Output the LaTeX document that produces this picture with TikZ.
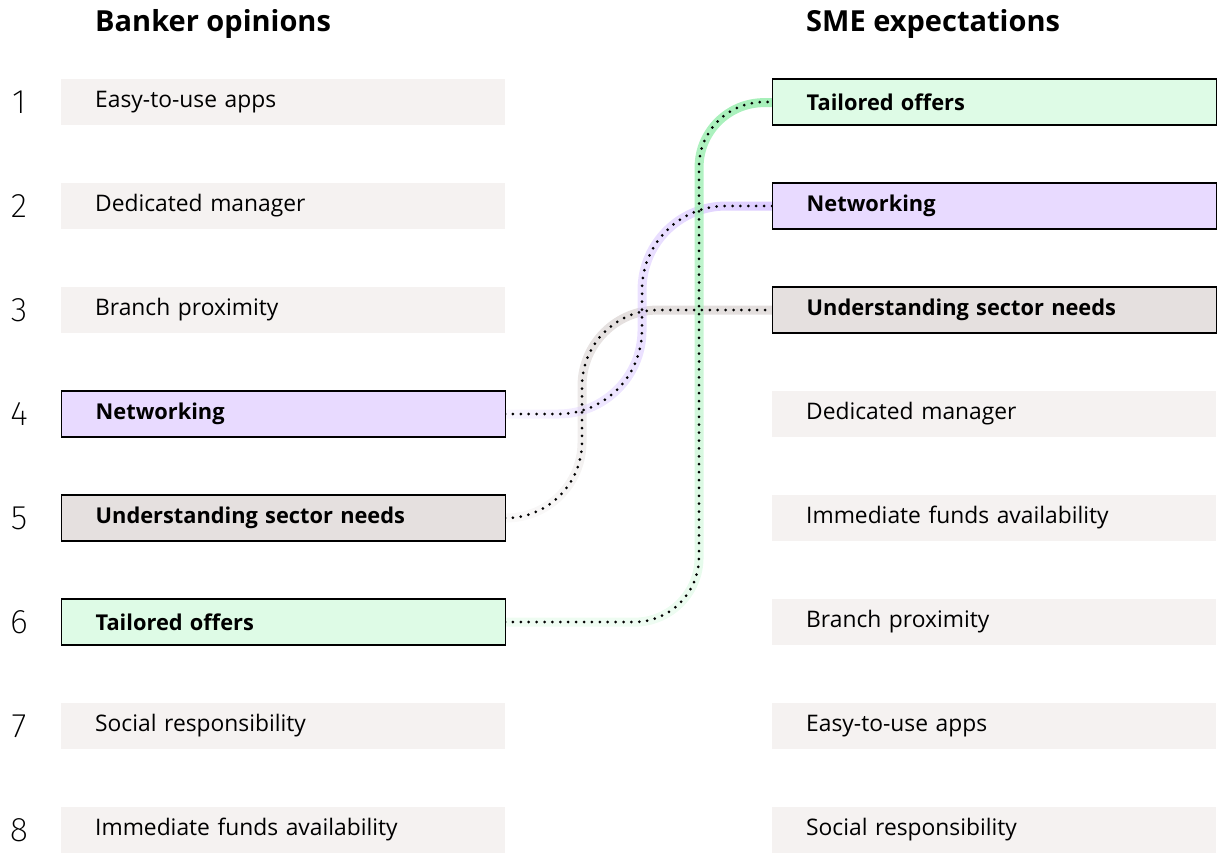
\documentclass[tikz,border=0pt]{standalone}
\usepackage{fontspec}
\setmainfont{Open Sans}
\newfontfamily\numfont{Fira Sans ExtraLight}
\usetikzlibrary{fadings}
\definecolor{boxgray}{HTML}{F5F2F1}
\definecolor{hlpurple}{HTML}{E8DAFF}
\definecolor{hlgreen}{HTML}{DEFBE6}
\definecolor{hlgray}{HTML}{E5E0DF}
\definecolor{bandgreen}{HTML}{A7F0BA}
\definecolor{bandpurple}{HTML}{DCCBFF}
\definecolor{bandgray}{HTML}{E3DEDD}
\tikzfading[name=fadesouthsoft, top color=transparent!0, middle color=transparent!25, bottom color=transparent!82]
\tikzfading[name=fadewestsoft, right color=transparent!0, left color=transparent!85]
\tikzset{
  item/.style={anchor=west, minimum width=444pt, minimum height=46pt, inner xsep=34pt, inner ysep=0pt,
    text width=376pt, align=left, font=\fontsize{22.8}{26}\selectfont, fill=boxgray},
  hl/.style={item, draw=black, line width=1.4pt, font=\fontsize{21.8}{26}\selectfont\bfseries},
  num/.style={font=\numfont\fontsize{34}{38}\selectfont, anchor=center},
  head/.style={anchor=west, font=\fontsize{29}{33}\selectfont\bfseries, inner sep=0pt},
  band/.style={line width=9pt, line cap=round},
  dots/.style={line width=3pt, dash pattern=on 0pt off 7.9pt, line cap=round, black}
}
\begin{document}
\begin{tikzpicture}[x=1pt, y=-1pt]
\useasboundingbox (0,0) rectangle (1218,853);
\node[head] (hL) at (95,24) {Banker opinions};
\node[head] (hR) at (806,24) {SME expectations};
% numbers
\foreach \i in {1,...,8} {
  \node[num] (n\i) at (19,{102+104*(\i-1)}) {\i};
}
% connector coordinates
\coordinate (gA) at (699,622);
\coordinate (gB) at (699,102);
\coordinate (pA) at (642,414);
\coordinate (pB) at (642,206);
\coordinate (sA) at (582,518);
\coordinate (sB) at (582,310);
\coordinate (Le4) at (505,414);
\coordinate (Le5) at (505,518);
\coordinate (Le6) at (505,622);
\coordinate (Rw1) at (772,102);
\coordinate (Rw2) at (772,206);
\coordinate (Rw3) at (772,310);
\draw[band, bandgray, path fading=fadesouthsoft] (Le5) [rounded corners=76pt] -- (sA) -- (sB) -- (Rw3);
\draw[band, bandpurple, path fading=fadewestsoft] (Le4) [rounded corners=84pt] -- (pA) -- (pB) -- (Rw2);
\draw[band, bandgreen, path fading=fadesouthsoft] (Le6) [rounded corners=65pt] -- (gA) -- (gB) -- (Rw1);
\draw[dots] (Le5) [rounded corners=76pt] -- (sA) -- (sB) -- (Rw3);
\draw[dots] (Le4) [rounded corners=84pt] -- (pA) -- (pB) -- (Rw2);
\draw[dots] (Le6) [rounded corners=65pt] -- (gA) -- (gB) -- (Rw1);
% left column
\node[item] (L1) at (61,102) {Easy-to-use apps};
\node[item] (L2) at (61,206) {Dedicated manager};
\node[item] (L3) at (61,310) {Branch proximity};
\node[hl, fill=hlpurple] (L4) at (61,414) {Networking};
\node[hl, fill=hlgray] (L5) at (61,518) {Understanding sector needs};
\node[hl, fill=hlgreen] (L6) at (61,622) {Tailored offers};
\node[item] (L7) at (61,726) {Social responsibility};
\node[item] (L8) at (61,830) {Immediate funds availability};
% right column
\node[hl, fill=hlgreen] (R1) at (772,102) {Tailored offers};
\node[hl, fill=hlpurple] (R2) at (772,206) {Networking};
\node[hl, fill=hlgray] (R3) at (772,310) {Understanding sector needs};
\node[item] (R4) at (772,414) {Dedicated manager};
\node[item] (R5) at (772,518) {Immediate funds availability};
\node[item] (R6) at (772,622) {Branch proximity};
\node[item] (R7) at (772,726) {Easy-to-use apps};
\node[item] (R8) at (772,830) {Social responsibility};
\end{tikzpicture}
\end{document}
